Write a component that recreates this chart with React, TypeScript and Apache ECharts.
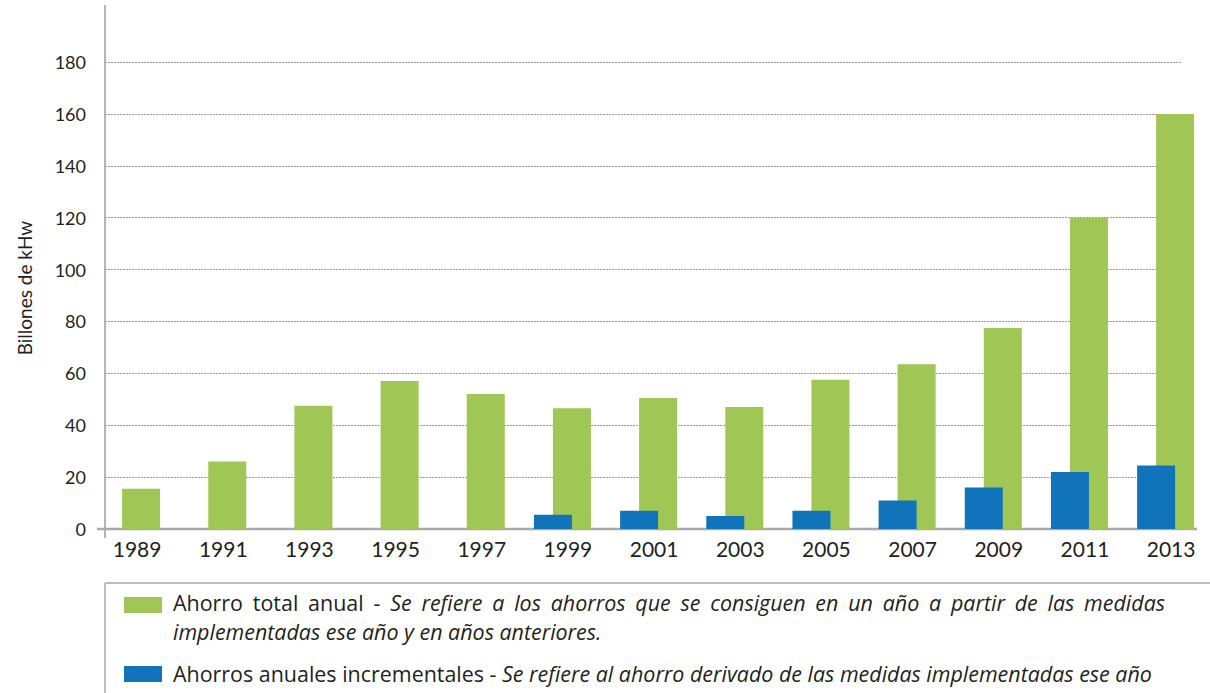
import React, { useEffect, useRef } from "react";
import * as echarts from "echarts";

const years = ["1989", "1991", "1993", "1995", "1997", "1999", "2001", "2003", "2005", "2007", "2009", "2011", "2013"];
const totalAnnual = [15.5, 26, 47.5, 57, 52, 46.5, 50.5, 47, 57.5, 63.5, 77.5, 120, 160];
const incremental: (number | null)[] = [null, null, null, null, null, 5.5, 7, 5, 7, 11, 16, 22, 24.5];
const yMin = 0;
const yMax = 180;
const yInterval = 20;

const yTitle = "Billones de kHw";
const legend1Normal = "Ahorro total anual -";
const legend1Italic = "Se refiere a los ahorros que se consiguen en un año a partir de las medidas";
const legend1Line2 = "implementadas ese año y en años anteriores.";
const legend2Normal = "Ahorros anuales incrementales - ";
const legend2Italic = "Se refiere al ahorro derivado de las medidas implementadas ese año";

const GREEN = "#a0c655";
const BLUE = "#1174bb";
const TEXT = "#231f20";
const FONT = "Lato";
const LFONT = "Open Sans";

export default function App() {
  const ref = useRef<HTMLDivElement>(null);
  useEffect(() => {
    document.body.style.margin = "0";
    const chart = echarts.init(ref.current!, null, { renderer: "svg" });

    const ctx = document.createElement("canvas").getContext("2d")!;
    const measure = (t: string, italic: boolean, size: number) => {
      ctx.font = `${italic ? "italic " : ""}${size}px "${LFONT}"`;
      return ctx.measureText(t).width;
    };
    // legend font size chosen so the (non-justified) last line spans like the reference
    const row3Target = 979;
    const baseW = measure(legend2Normal, false, 20) + measure(legend2Italic, true, 20);
    const LFS = Math.min(23, Math.max(18, (20 * row3Target) / baseW));
    const LH = 21;

    const words: { w: string; it: boolean }[] = [
      ...legend1Normal.split(" ").map((w) => ({ w, it: false })),
      ...legend1Italic.split(" ").map((w) => ({ w, it: true })),
    ];
    const lineLeft = 173;
    const lineRight = 1165;
    const sumW = words.reduce((a, b) => a + measure(b.w, b.it, LFS), 0);
    const gap = Math.max(3, (lineRight - lineLeft - sumW) / (words.length - 1));
    const row1 = words
      .map((o, i) => `{${o.it ? "i" : "n"}|${o.w}}` + (i < words.length - 1 ? "{s| }" : ""))
      .join("");

    const rich = {
      n: { fontFamily: LFONT, fontSize: LFS, lineHeight: LH, color: TEXT },
      i: { fontFamily: LFONT, fontSize: LFS, lineHeight: LH, color: TEXT, fontStyle: "italic" },
      s: { fontFamily: LFONT, fontSize: LFS, lineHeight: LH, width: gap },
    };

    const option: any = {
      animation: false,
      grid: [
        { left: 105, right: 29, top: 62, bottom: 164 },
        { left: 88.5, width: 1120.2, top: 62, bottom: 164 },
      ],
      xAxis: [
        { gridIndex: 0, type: "value", show: false, min: 0, max: 1 },
        {
          gridIndex: 1,
          type: "category",
          data: years,
          axisLine: { show: false },
          axisTick: { show: false },
          axisLabel: {
            interval: 0,
            margin: 9,
            fontSize: 21,
            fontFamily: FONT,
            color: TEXT,
            padding: [0, 0, 0, 11],
          },
        },
      ],
      yAxis: [
        {
          gridIndex: 0,
          type: "value",
          min: yMin,
          max: yMax,
          interval: yInterval,
          axisLine: { show: false },
          axisTick: { show: false },
          axisLabel: { margin: 19, fontSize: 18, fontFamily: FONT, color: TEXT },
          splitLine: { show: true, lineStyle: { color: "#9a9a9a", type: [2, 1], width: 1 } },
        },
        { gridIndex: 1, type: "value", min: yMin, max: yMax, show: false, splitLine: { show: false } },
      ],
      series: [
        {
          name: "Ahorros anuales incrementales",
          type: "bar",
          xAxisIndex: 1,
          yAxisIndex: 1,
          data: incremental,
          barWidth: 38,
          barGap: "-50%",
          itemStyle: { color: BLUE },
          z: 3,
        },
        {
          name: "Ahorro total anual",
          type: "bar",
          xAxisIndex: 1,
          yAxisIndex: 1,
          data: totalAnnual,
          barWidth: 38,
          barGap: "-50%",
          itemStyle: { color: GREEN },
          z: 2,
        },
      ],
      graphic: [
        { type: "line", z: 1, shape: { x1: 105, y1: 5, x2: 105, y2: 538 }, style: { stroke: "#9d9d9d", lineWidth: 1.5 } },
        { type: "line", z: 1, shape: { x1: 97, y1: 529, x2: 1197, y2: 529 }, style: { stroke: "#a7a9ac", lineWidth: 2.5 } },
        { type: "line", shape: { x1: 105, y1: 583, x2: 1210, y2: 583 }, style: { stroke: "#a8a8a8", lineWidth: 1.5 } },
        { type: "line", shape: { x1: 105, y1: 583, x2: 105, y2: 693 }, style: { stroke: "#a8a8a8", lineWidth: 1.5 } },
        {
          type: "text",
          x: 24,
          y: 288,
          rotation: Math.PI / 2,
          style: { text: yTitle, fontFamily: FONT, fontSize: 19, fill: TEXT, align: "center", verticalAlign: "middle" },
        },
        { type: "rect", shape: { x: 124, y: 597, width: 38, height: 16 }, style: { fill: GREEN } },
        { type: "rect", shape: { x: 124, y: 666, width: 38, height: 16 }, style: { fill: BLUE } },
        {
          type: "text",
          x: lineLeft,
          y: 602.3,
          style: { text: row1, rich, fill: TEXT, align: "left", verticalAlign: "middle" },
        },
        {
          type: "text",
          x: lineLeft,
          y: 631,
          style: {
            text: legend1Line2,
            fontFamily: LFONT,
            fontSize: LFS,
            lineHeight: LH,
            fontStyle: "italic",
            fill: TEXT,
            align: "left",
            verticalAlign: "middle",
          },
        },
        {
          type: "text",
          x: lineLeft,
          y: 673.5,
          style: {
            text: `{n|${legend2Normal}}{i|${legend2Italic}}`,
            rich,
            fill: TEXT,
            align: "left",
            verticalAlign: "middle",
          },
        },
      ],
    };
    chart.setOption(option);
    return () => chart.dispose();
  }, []);
  return <div ref={ref} style={{ width: 1210, height: 693 }} />;
}
